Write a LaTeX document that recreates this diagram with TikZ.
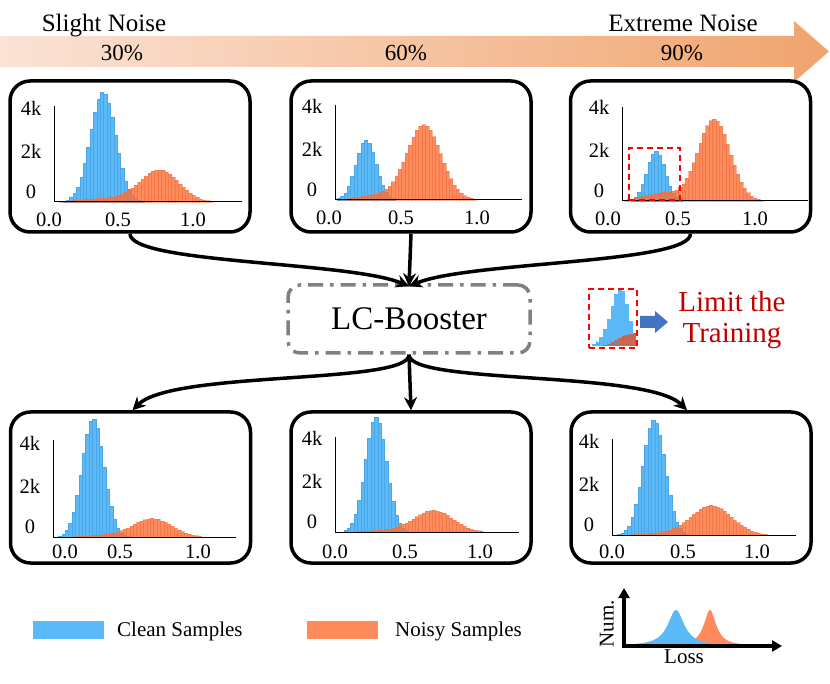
\documentclass[tikz,border=0pt]{standalone}
\usepackage{fontspec}
\setmainfont{Liberation Serif}
\usetikzlibrary{arrows.meta}
\definecolor{cblue}{HTML}{5CB9F7}
\definecolor{cblueE}{HTML}{4AA6E6}
\definecolor{corg}{HTML}{FF6D33}
\definecolor{corgE}{HTML}{E8744A}
\definecolor{legorg}{HTML}{FF8A5B}
\definecolor{arrL}{RGB}{251,227,214}
\definecolor{arrR}{RGB}{240,164,110}
\definecolor{lcgray}{HTML}{808080}
\definecolor{dred}{HTML}{C00000}
\definecolor{barrow}{HTML}{4472C4}
\definecolor{mixbr}{HTML}{C8644F}
\newcommand{\fs}[1]{\fontsize{#1}{#1}\selectfont}
% histogram: ox oy c1 h1 s1 c2 h2 s2 style
\newcommand{\histo}[9]{%
  \foreach \i in {0,...,54}{%
    \pgfmathsetmacro{\xc}{#1+3.7+3.4*\i}%
    \pgfmathsetmacro{\za}{min(abs((\xc-#1-#3)/#5),6)}%
    \pgfmathsetmacro{\zb}{min(abs((\xc-#1-#6)/#8),6)}%
    \pgfmathsetmacro{\hh}{#4*exp(-\za*\za/2)+#7*exp(-\zb*\zb/2)}%
    \ifdim\hh pt>0.7pt \path[#9] (\xc-1.7,#2) rectangle (\xc+1.7,#2-\hh);\fi
  }}
% axes: name ox oy vlen hlen x0 x5 x1 xlabel-dy
\newcommand{\paxes}[9]{%
  \draw[axisline] (#2,#3-#4) -- (#2,#3) -- (#2+#5,#3);
  \node[tick] (#1y4) at (#2-23,#3-94) {4k};
  \node[tick] (#1y2) at (#2-23,#3-51) {2k};
  \node[tick] (#1y0) at (#2-23,#3-10) {0};
  \node[tick] (#1x0) at (#2+#6,#3+#9) {0.0};
  \node[tick] (#1x5) at (#2+#7,#3+#9) {0.5};
  \node[tick] (#1x1) at (#2+#8,#3+#9) {1.0};
}
\begin{document}
\begin{tikzpicture}[x=1pt,y=-1pt,
  panel/.style={draw=black, line width=3.5pt, rounded corners=20pt, minimum width=240pt, minimum height=151pt, inner sep=0pt},
  axisline/.style={black, line width=1pt},
  tick/.style={font=\fs{20.5}, inner sep=0pt},
  bluebar/.style={fill=cblue, draw=cblueE, line width=0.3pt},
  orgbar/.style={fill=corg, fill opacity=0.8, draw=corgE, draw opacity=0.5, line width=0.3pt},
  conn/.style={line width=3.5pt, -{Stealth[length=13pt,width=13pt]}},
  lcbox/.style={draw=lcgray, line width=3.5pt, rounded corners=12pt, dash pattern=on 15pt off 7pt on 3.5pt off 7pt, minimum width=242pt, minimum height=68pt},
  legtext/.style={font=\fs{21}, anchor=west, inner sep=0pt}
]
\useasboundingbox (0,0) rectangle (830,684);
% top gradient arrow
\shade[left color=arrL, right color=arrR] (0,36) -- (794,36) -- (794,21) -- (829,51.5) -- (794,82) -- (794,67) -- (0,67) -- cycle;
\node[font=\fs{25}, anchor=base] (sn) at (104,32) {Slight Noise};
\node[font=\fs{25}, anchor=base] (en) at (683,32) {Extreme Noise};
\node[font=\fs{23}, anchor=base] (n30) at (122,61) {30\%};
\node[font=\fs{23}, anchor=base] (n60) at (406,61) {60\%};
\node[font=\fs{23}, anchor=base] (n90) at (682,61) {90\%};

% panels
\node[panel] (p1) at (130,156.5) {};
\node[panel] (p2) at (411,156.5) {};
\node[panel] (p3) at (690.5,156.5) {};
\node[panel] (p4) at (130.5,487.5) {};
\node[panel] (p5) at (411,487.5) {};
\node[panel] (p6) at (691,487.5) {};

% histograms
\histo{54}{202}{49}{110}{12.5}{0}{0}{1}{bluebar}
\histo{54}{202}{106}{31}{19}{60}{4}{30}{orgbar}
\paxes{a}{54}{202}{96}{188}{-5}{64}{139}{18}

\histo{335}{200}{31}{60}{10}{0}{0}{1}{bluebar}
\histo{335}{200}{89}{75}{17}{45}{5}{20}{orgbar}
\paxes{b}{335}{200}{95}{187}{-6}{66}{142}{18}

\histo{622}{201}{34}{50}{9}{0}{0}{1}{bluebar}
\histo{622}{201}{92}{82}{16}{40}{8}{18}{orgbar}
\paxes{c}{622}{201}{94}{186}{-14}{56}{133}{18}
\node[draw=red, line width=2pt, dash pattern=on 6pt off 4pt, minimum width=51pt, minimum height=52pt, inner sep=0pt] (rb) at (654.5,174) {};

\histo{53}{537}{40}{118}{11}{0}{0}{1}{bluebar}
\histo{53}{537}{100}{18}{19}{60}{2}{25}{orgbar}
\paxes{d}{53}{537}{97}{183}{12}{67}{145}{15}

\histo{335}{532}{41}{115}{10.5}{0}{0}{1}{bluebar}
\histo{335}{532}{99}{21}{19}{60}{2}{25}{orgbar}
\paxes{e}{335}{532}{95}{184}{0}{70}{145}{20}

\histo{612}{535}{42}{115}{11}{0}{0}{1}{bluebar}
\histo{612}{535}{100}{29}{20}{60}{2}{25}{orgbar}
\paxes{f}{612}{535}{96}{184}{0}{71}{145}{17}

% LC-Booster
\node[lcbox, font=\fs{33}] (lc) at (409,319) {LC-Booster};

% connectors
\draw[conn] (p1.south) .. controls +(0,30) and +(-60,-25) .. ([yshift=-3]lc.north);
\draw[conn] (p2.south) -- ([yshift=-3]lc.north);
\draw[conn] (p3.south) .. controls +(0,30) and +(60,-25) .. ([yshift=-3]lc.north);
\draw[conn] (lc.south) .. controls +(0,30) and +(40,-40) .. ([xshift=2]p4.north);
\draw[conn] (lc.south) -- (p5.north);
\draw[conn] (lc.south) .. controls +(0,30) and +(-40,-40) .. ([xshift=-4]p6.north);

% limit the training
\foreach \h [count=\k from 0] in {2,4,9,17,27,40,52,57,55,42,25,12}
  \fill[cblue] (592+3.7*\k,346) rectangle (592+3.7*\k+3.7,346-\h);
\foreach \h [count=\k from 0] in {0,0,0,1,2,4,6,8,10,11,12,13}
  \fill[mixbr] (592+3.7*\k,346) rectangle (592+3.7*\k+3.7,346-\h);
\foreach \k in {1,...,11}
  \draw[cblueE, line width=0.3pt, opacity=0.6] (592+3.7*\k,346) -- (592+3.7*\k,340);
\node[draw=red, line width=2pt, dash pattern=on 6pt off 4pt, minimum width=48pt, minimum height=59pt, inner sep=0pt] (lim) at (613,318.5) {};
\fill[barrow] (640,316) -- (655,316) -- (655,311) -- (668,322) -- (655,333) -- (655,328) -- (640,328) -- cycle;
\node[align=center, text=dred, font=\fontsize{29}{31}\selectfont] (lt) at (732,320) {Limit the\\Training};

% legend
\node[fill=cblue, minimum width=71pt, minimum height=18pt, inner sep=0pt] (lgb) at (68.5,630) {};
\node[legtext] (lgbt) at (117,631) {Clean Samples};
\node[fill=legorg, minimum width=71pt, minimum height=18pt, inner sep=0pt] (lgo) at (342.5,630) {};
\node[legtext] (lgot) at (395,631) {Noisy Samples};

% mini plot
\fill[legorg] (686,646) -- plot[domain=686:745, samples=80] (\x,{646-36*56/(56+(\x-710)^2)}) -- (745,646) -- cycle;
\fill[cblue] (626,646) -- plot[domain=626:740, samples=100] (\x,{646-36*100/(100+(\x-676)^2)}) -- (740,646) -- cycle;
\draw[line width=3.5pt, {Triangle[length=10pt,width=11pt]}-{Triangle[length=10pt,width=11pt]}] (624,588) -- (624,646) -- (782,646);
\node[rotate=90, font=\fs{21}] (num) at (607,624) {Num.};
\node[font=\fs{21}] (loss) at (684,657) {Loss};
\end{tikzpicture}
\end{document}
